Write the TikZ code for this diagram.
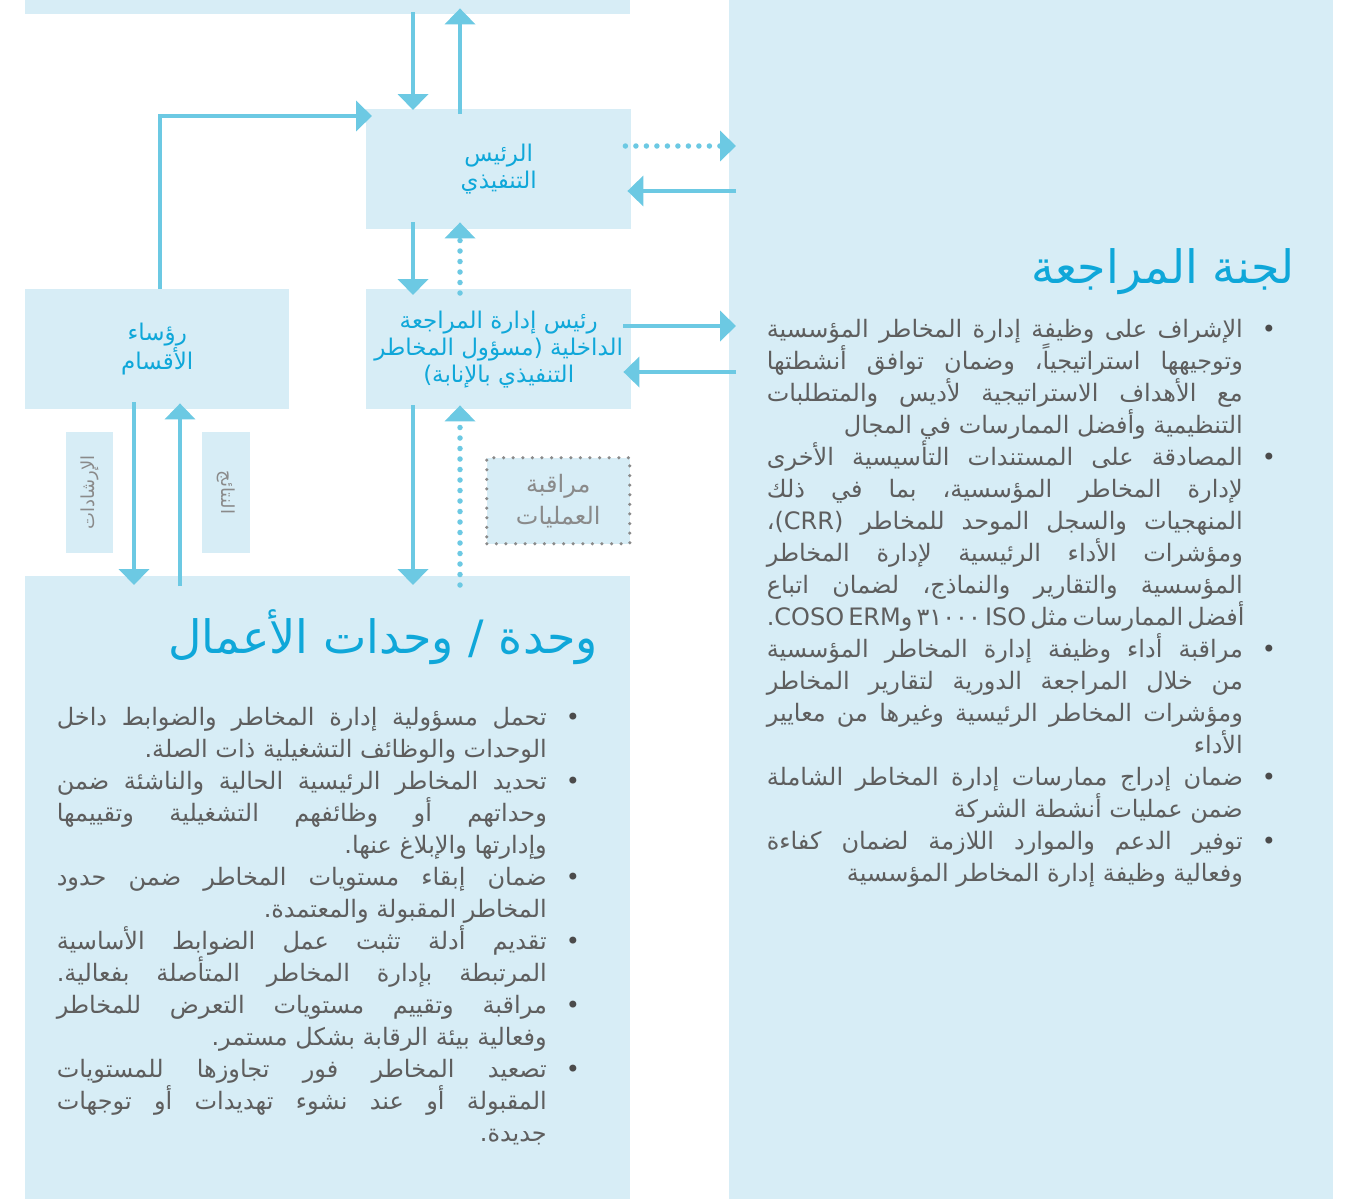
\documentclass[tikz,border=0pt]{standalone}
\usepackage{fontspec}
\usetikzlibrary{arrows.meta}
\newfontfamily\arabicfont[Script=Arabic]{DejaVu Sans}
\TeXXeTstate=1
\definecolor{boxblue}{HTML}{D7EDF6}
\definecolor{arrowblue}{HTML}{6CC9E3}
\definecolor{titleblue}{HTML}{0FA7D9}
\definecolor{bodygray}{HTML}{5E5E5E}
\definecolor{lightgray}{HTML}{8A8A8A}
\newcommand\artext[1]{\beginR #1\endR}
\newlength\txtwd
\newcommand\jline[1]{\hbox to \txtwd{\spaceskip=0.22em plus 1em minus 0.05em\relax\beginR #1\endR}}
\newcommand\lline[1]{\hbox to \txtwd{\hfill\beginR #1\endR}}
\newcommand\bline[1]{\hbox to \txtwd{\beginR #1\endR\rlap{\hskip 19pt{\color{bodygray!80!black}\textbullet}}}}
\tikzset{
	panel/.style={fill=boxblue, draw=none, inner sep=0pt},
	rolebox/.style={panel, text=titleblue, align=center, font=\arabicfont\fontsize{23}{27}\selectfont},
	tagbox/.style={panel, text=lightgray, font=\arabicfont\fontsize{18}{22}\selectfont},
	opsbox/.style={panel, draw=lightgray, line width=3.5pt, dash pattern=on 0pt off 9.6pt, line cap=round,
		text=lightgray, align=center, font=\arabicfont\fontsize{24}{32}\selectfont},
	heading/.style={text=titleblue, inner sep=0pt, font=\arabicfont\fontsize{46}{50}\selectfont},
	points/.style={text=bodygray, inner sep=0pt, font=\arabicfont\fontsize{24}{32}\selectfont},
	arr/.style={line width=4.5pt, draw=arrowblue, -{Triangle[width=30pt,length=16pt]}},
	dotarr/.style={arr, line width=5.5pt, dash pattern=on 0pt off 10.5pt, line cap=round}
}
\begin{document}
\begin{tikzpicture}[x=1pt, y=-1pt]
	\useasboundingbox (0,0) rectangle (1348,1199);
	\fill[white] (0,0) rectangle (1348,1199);
	%panels
	\node[panel, anchor=north west, minimum width=605pt, minimum height=14pt] (board) at (25,0) {};
	\node[panel, anchor=north west, minimum width=604pt, minimum height=1199pt] (audit) at (729,0) {};
	\node[panel, anchor=north west, minimum width=605pt, minimum height=623pt] (unit) at (25,576) {};
	%roles
	\node[rolebox, anchor=north west, minimum width=265pt, minimum height=120pt] (ceo) at (366,109)
		{\artext{الرئيس}\\ \artext{التنفيذي}};
	\node[rolebox, anchor=north west, minimum width=265pt, minimum height=120pt] (cro) at (366,289)
		{\artext{رئيس إدارة المراجعة}\\ \artext{الداخلية (مسؤول المخاطر}\\ \artext{التنفيذي بالإنابة)}};
	\node[rolebox, anchor=north west, minimum width=264pt, minimum height=120pt] (heads) at (25,289)
		{\artext{رؤساء}\\ \artext{الأقسام}};
	\node[opsbox, anchor=north west, minimum width=143pt, minimum height=86pt] (ops) at (485,456)
		{\artext{مراقبة}\\ \artext{العمليات}};
	\node[tagbox, rotate=90, minimum width=121pt, minimum height=47pt] (guide) at (89.5,492.5) {\artext{الإرشادات}};
	\node[tagbox, rotate=-90, minimum width=121pt, minimum height=48pt] (result) at (226,492.5) {\artext{النتائج}};
	%arrows
	\draw[arr] ([xshift=388pt,yshift=2pt]board.south west) -- ([xshift=47pt,yshift=-1pt]ceo.north west);
	\draw[arr] ([xshift=94pt,yshift=-5pt]ceo.north west) -- ([xshift=435pt,yshift=6pt]board.south west);
	\draw[arr] ([xshift=135pt]heads.north west) |- ([xshift=6pt,yshift=-7pt]ceo.north west);
	\draw[arr] ([xshift=47pt,yshift=7pt]ceo.south west) -- ([xshift=47pt,yshift=-6pt]cro.north west);
	\draw[dotarr] ([xshift=94pt,yshift=-4pt]cro.north west) -- ([xshift=94pt,yshift=7pt]ceo.south west);
	\draw[dotarr] ([xshift=-6pt,yshift=-37pt]ceo.north east) -- ([xshift=7pt,yshift=-146pt]audit.north west);
	\draw[arr] ([xshift=7pt,yshift=-191pt]audit.north west) -- ([xshift=-4pt,yshift=-82pt]ceo.north east);
	\draw[arr] ([xshift=-8pt,yshift=-37pt]cro.north east) -- ([xshift=7pt,yshift=-326pt]audit.north west);
	\draw[arr] ([xshift=7pt,yshift=-372pt]audit.north west) -- ([xshift=-8pt,yshift=-83pt]cro.north east);
	\draw[arr] ([xshift=47pt,yshift=4pt]cro.south west) -- ([xshift=388pt,yshift=-9pt]unit.north west);
	\draw[dotarr] ([xshift=435pt,yshift=-9pt]unit.north west) -- ([xshift=94pt,yshift=4pt]cro.south west);
	\draw[arr] ([xshift=109pt,yshift=7pt]heads.south west) -- ([xshift=109pt,yshift=-9pt]unit.north west);
	\draw[arr] ([xshift=155pt,yshift=-10pt]unit.north west) -- ([xshift=155pt,yshift=6pt]heads.south west);
	%audit committee
	\node[heading, anchor=base east] (audittitle) at (1295,283) {\artext{لجنة المراجعة}};
	\node[points, anchor=base east] (auditpts) at (1243,337) {\setlength\txtwd{476pt}\vtop{
		\bline{الإشراف على وظيفة إدارة المخاطر المؤسسية}
		\jline{وتوجيهها استراتيجياً، وضمان توافق أنشطتها}
		\jline{مع الأهداف الاستراتيجية لأديس والمتطلبات}
		\lline{التنظيمية وأفضل الممارسات في المجال}
		\bline{المصادقة على المستندات التأسيسية الأخرى}
		\jline{لإدارة المخاطر المؤسسية، بما في ذلك}
		\jline{المنهجيات والسجل الموحد للمخاطر \beginL(CRR)\endL،}
		\jline{ومؤشرات الأداء الرئيسية لإدارة المخاطر}
		\jline{المؤسسية والتقارير والنماذج، لضمان اتباع}
		\jline{أفضل الممارسات مثل \beginL ISO\endL{} \beginL ٣١٠٠٠\endL{} و\beginL COSO ERM\endL.}
		\bline{مراقبة أداء وظيفة إدارة المخاطر المؤسسية}
		\jline{من خلال المراجعة الدورية لتقارير المخاطر}
		\jline{ومؤشرات المخاطر الرئيسية وغيرها من معايير}
		\lline{الأداء}
		\bline{ضمان إدراج ممارسات إدارة المخاطر الشاملة}
		\lline{ضمن عمليات أنشطة الشركة}
		\bline{توفير الدعم والموارد اللازمة لضمان كفاءة}
		\lline{وفعالية وظيفة إدارة المخاطر المؤسسية}}};
	%business units
	\node[heading, anchor=base east] (unittitle) at (598,653) {\artext{وحدة / وحدات الأعمال}};
	\node[points, anchor=base east] (unitpts) at (547,725) {\setlength\txtwd{490pt}\vtop{
		\bline{تحمل مسؤولية إدارة المخاطر والضوابط داخل}
		\lline{الوحدات والوظائف التشغيلية ذات الصلة.}
		\bline{تحديد المخاطر الرئيسية الحالية والناشئة ضمن}
		\jline{وحداتهم أو وظائفهم التشغيلية وتقييمها}
		\lline{وإدارتها والإبلاغ عنها.}
		\bline{ضمان إبقاء مستويات المخاطر ضمن حدود}
		\lline{المخاطر المقبولة والمعتمدة.}
		\bline{تقديم أدلة تثبت عمل الضوابط الأساسية}
		\jline{المرتبطة بإدارة المخاطر المتأصلة بفعالية.}
		\bline{مراقبة وتقييم مستويات التعرض للمخاطر}
		\lline{وفعالية بيئة الرقابة بشكل مستمر.}
		\bline{تصعيد المخاطر فور تجاوزها للمستويات}
		\jline{المقبولة أو عند نشوء تهديدات أو توجهات}
		\lline{جديدة.}}};
\end{tikzpicture}
\end{document}
